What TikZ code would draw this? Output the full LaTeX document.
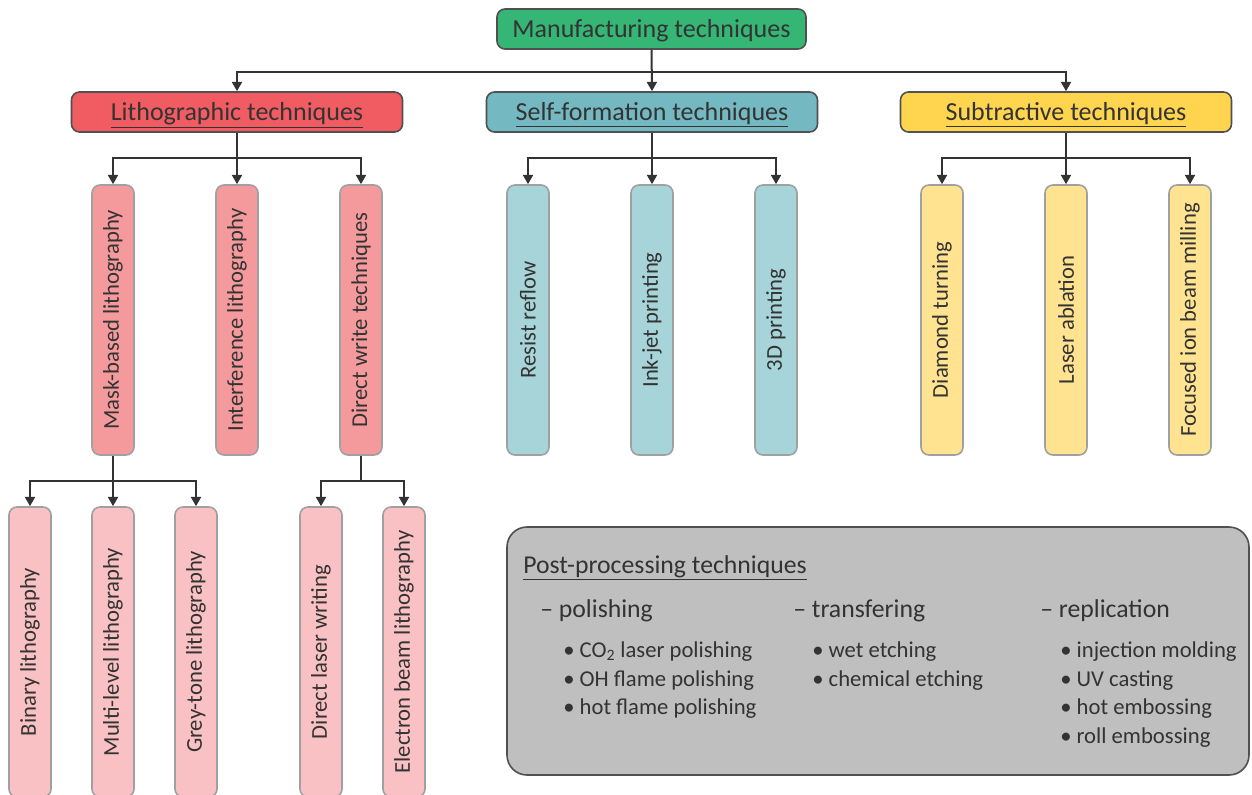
\documentclass[tikz,border=0pt]{standalone}
\usepackage{fontspec}
\setmainfont{Carlito}
\usepackage{graphicx}
\usepackage{xcolor}
\usetikzlibrary{arrows.meta}

\definecolor{wirecol}{HTML}{333333}
\definecolor{textcol}{HTML}{333333}
\definecolor{darkbord}{HTML}{505050}
\definecolor{lightbord}{HTML}{A0A0A0}
\definecolor{manufcol}{HTML}{35B675}
\definecolor{lithocol}{HTML}{F15B62}
\definecolor{selfcol}{HTML}{74B8C2}
\definecolor{subtrcol}{HTML}{FFD54F}
\definecolor{litholtcol}{HTML}{F59A9C}
\definecolor{selfltcol}{HTML}{A7D4D9}
\definecolor{subtrltcol}{HTML}{FFE390}
\definecolor{leafcol}{HTML}{F9C1C3}
\definecolor{postcol}{HTML}{BFBFC0}

\begin{document}
\begin{tikzpicture}[x=0.75pt, y=-0.75pt,
	wire/.style={draw=wirecol, line width=1.5pt},
	arr/.style={wire, -{Triangle[width=7.5pt, length=7pt]}},
	headbox/.style={draw=darkbord, line width=1.2pt, rounded corners=6pt, minimum height=30pt, inner sep=0pt, text height=17pt, text depth=4pt, text=textcol, font=\fontsize{19.5}{23}\selectfont},
	techbox/.style={draw=lightbord, line width=1.2pt, rounded corners=6pt, minimum width=31.5pt, minimum height=202.5pt, inner sep=0pt, text=textcol, font=\fontsize{17}{20}\selectfont},
	leafbox/.style={techbox, fill=leafcol, minimum height=217.5pt},
	posttext/.style={anchor=mid west, inner sep=0pt, text=textcol},
	postitem/.style={posttext, font=\fontsize{17}{20}\selectfont},
	posthead/.style={posttext, font=\fontsize{19.3}{23}\selectfont}]
	\useasboundingbox (0,0) rectangle (1252,794);
	% Boxes:
	\node[headbox, fill=manufcol, minimum width=231.75pt](manuf) at (651.5, 29){Manufacturing techniques};
	\node[headbox, fill=lithocol, minimum width=248.25pt](litho) at (237, 112){\underline{Lithographic techniques}};
	\node[headbox, fill=selfcol, minimum width=248.25pt](self) at (652, 112){\underline{Self-formation techniques}};
	\node[headbox, fill=subtrcol, minimum width=248.25pt](subtr) at (1066, 112){\underline{Subtractive techniques}};
	\node[techbox, fill=litholtcol](mask) at (113, 320){\rotatebox{90}{Mask-based lithography}};
	\node[techbox, fill=litholtcol](interf) at (237, 320){\rotatebox{90}{Interference lithography}};
	\node[techbox, fill=litholtcol](dwrite) at (361, 320){\rotatebox{90}{Direct write techniques}};
	\node[techbox, fill=selfltcol](reflow) at (528, 320){\rotatebox{90}{Resist reflow}};
	\node[techbox, fill=selfltcol](inkjet) at (652, 320){\rotatebox{90}{Ink-jet printing}};
	\node[techbox, fill=selfltcol](print3d) at (776, 320){\rotatebox{90}{3D printing}};
	\node[techbox, fill=subtrltcol](diamond) at (942, 320){\rotatebox{90}{Diamond turning}};
	\node[techbox, fill=subtrltcol](ablation) at (1066, 320){\rotatebox{90}{Laser ablation}};
	\node[techbox, fill=subtrltcol](fib) at (1190, 320){\rotatebox{90}{Focused ion beam milling}};
	\node[leafbox](binary) at (30, 652){\rotatebox{90}{Binary lithography}};
	\node[leafbox](multi) at (113, 652){\rotatebox{90}{Multi-level lithography}};
	\node[leafbox](grey) at (196, 652){\rotatebox{90}{Grey-tone lithography}};
	\node[leafbox](dlw) at (321, 652){\rotatebox{90}{Direct laser writing}};
	\node[leafbox](ebl) at (404, 652){\rotatebox{90}{Electron beam lithography}};
	% Wires:
	\coordinate (B0) at (652, 72);
	\coordinate (B1) at (237, 158);
	\coordinate (B2) at (652, 158);
	\coordinate (B3) at (1066, 158);
	\coordinate (B4) at (113, 481);
	\coordinate (B5) at (361, 481);
	\draw[arr] (manuf.south) -- (self.north);
	\draw[arr] (B0) -| (litho.north);
	\draw[arr] (B0) -| (subtr.north);
	\draw[arr] (litho.south) -- (interf.north);
	\draw[arr] (B1) -| (mask.north);
	\draw[arr] (B1) -| (dwrite.north);
	\draw[arr] (self.south) -- (inkjet.north);
	\draw[arr] (B2) -| (reflow.north);
	\draw[arr] (B2) -| (print3d.north);
	\draw[arr] (subtr.south) -- (ablation.north);
	\draw[arr] (B3) -| (diamond.north);
	\draw[arr] (B3) -| (fib.north);
	\draw[arr] (mask.south) -- (multi.north);
	\draw[arr] (B4) -| (binary.north);
	\draw[arr] (B4) -| (grey.north);
	\draw[wire] (dwrite.south) -- (B5);
	\draw[arr] (B5) -| (dlw.north);
	\draw[arr] (B5) -| (ebl.north);
	% Post-processing:
	\node[draw=darkbord, line width=1.2pt, fill=postcol, rounded corners=15pt, minimum width=556.5pt, minimum height=186pt, inner sep=0pt](post) at (878, 651){};
	\node[posthead](ptitle) at (523, 570){\underline{Post-processing techniques}};
	\node[posthead](pol) at (540, 614){-- polishing};
	\node[posthead](tra) at (793, 614){-- transfering};
	\node[posthead](rep) at (1040, 614){-- replication};
	\node[postitem](pol1) at (563, 654){\textbullet\ CO\textsubscript{2} laser polishing};
	\node[postitem](pol2) at (563, 683){\textbullet\ OH flame polishing};
	\node[postitem](pol3) at (563, 711){\textbullet\ hot flame polishing};
	\node[postitem](tra1) at (812, 654){\textbullet\ wet etching};
	\node[postitem](tra2) at (812, 683){\textbullet\ chemical etching};
	\node[postitem](rep1) at (1060, 654){\textbullet\ injection molding};
	\node[postitem](rep2) at (1060, 683){\textbullet\ UV casting};
	\node[postitem](rep3) at (1060, 711){\textbullet\ hot embossing};
	\node[postitem](rep4) at (1060, 740){\textbullet\ roll embossing};
\end{tikzpicture}
\end{document}
